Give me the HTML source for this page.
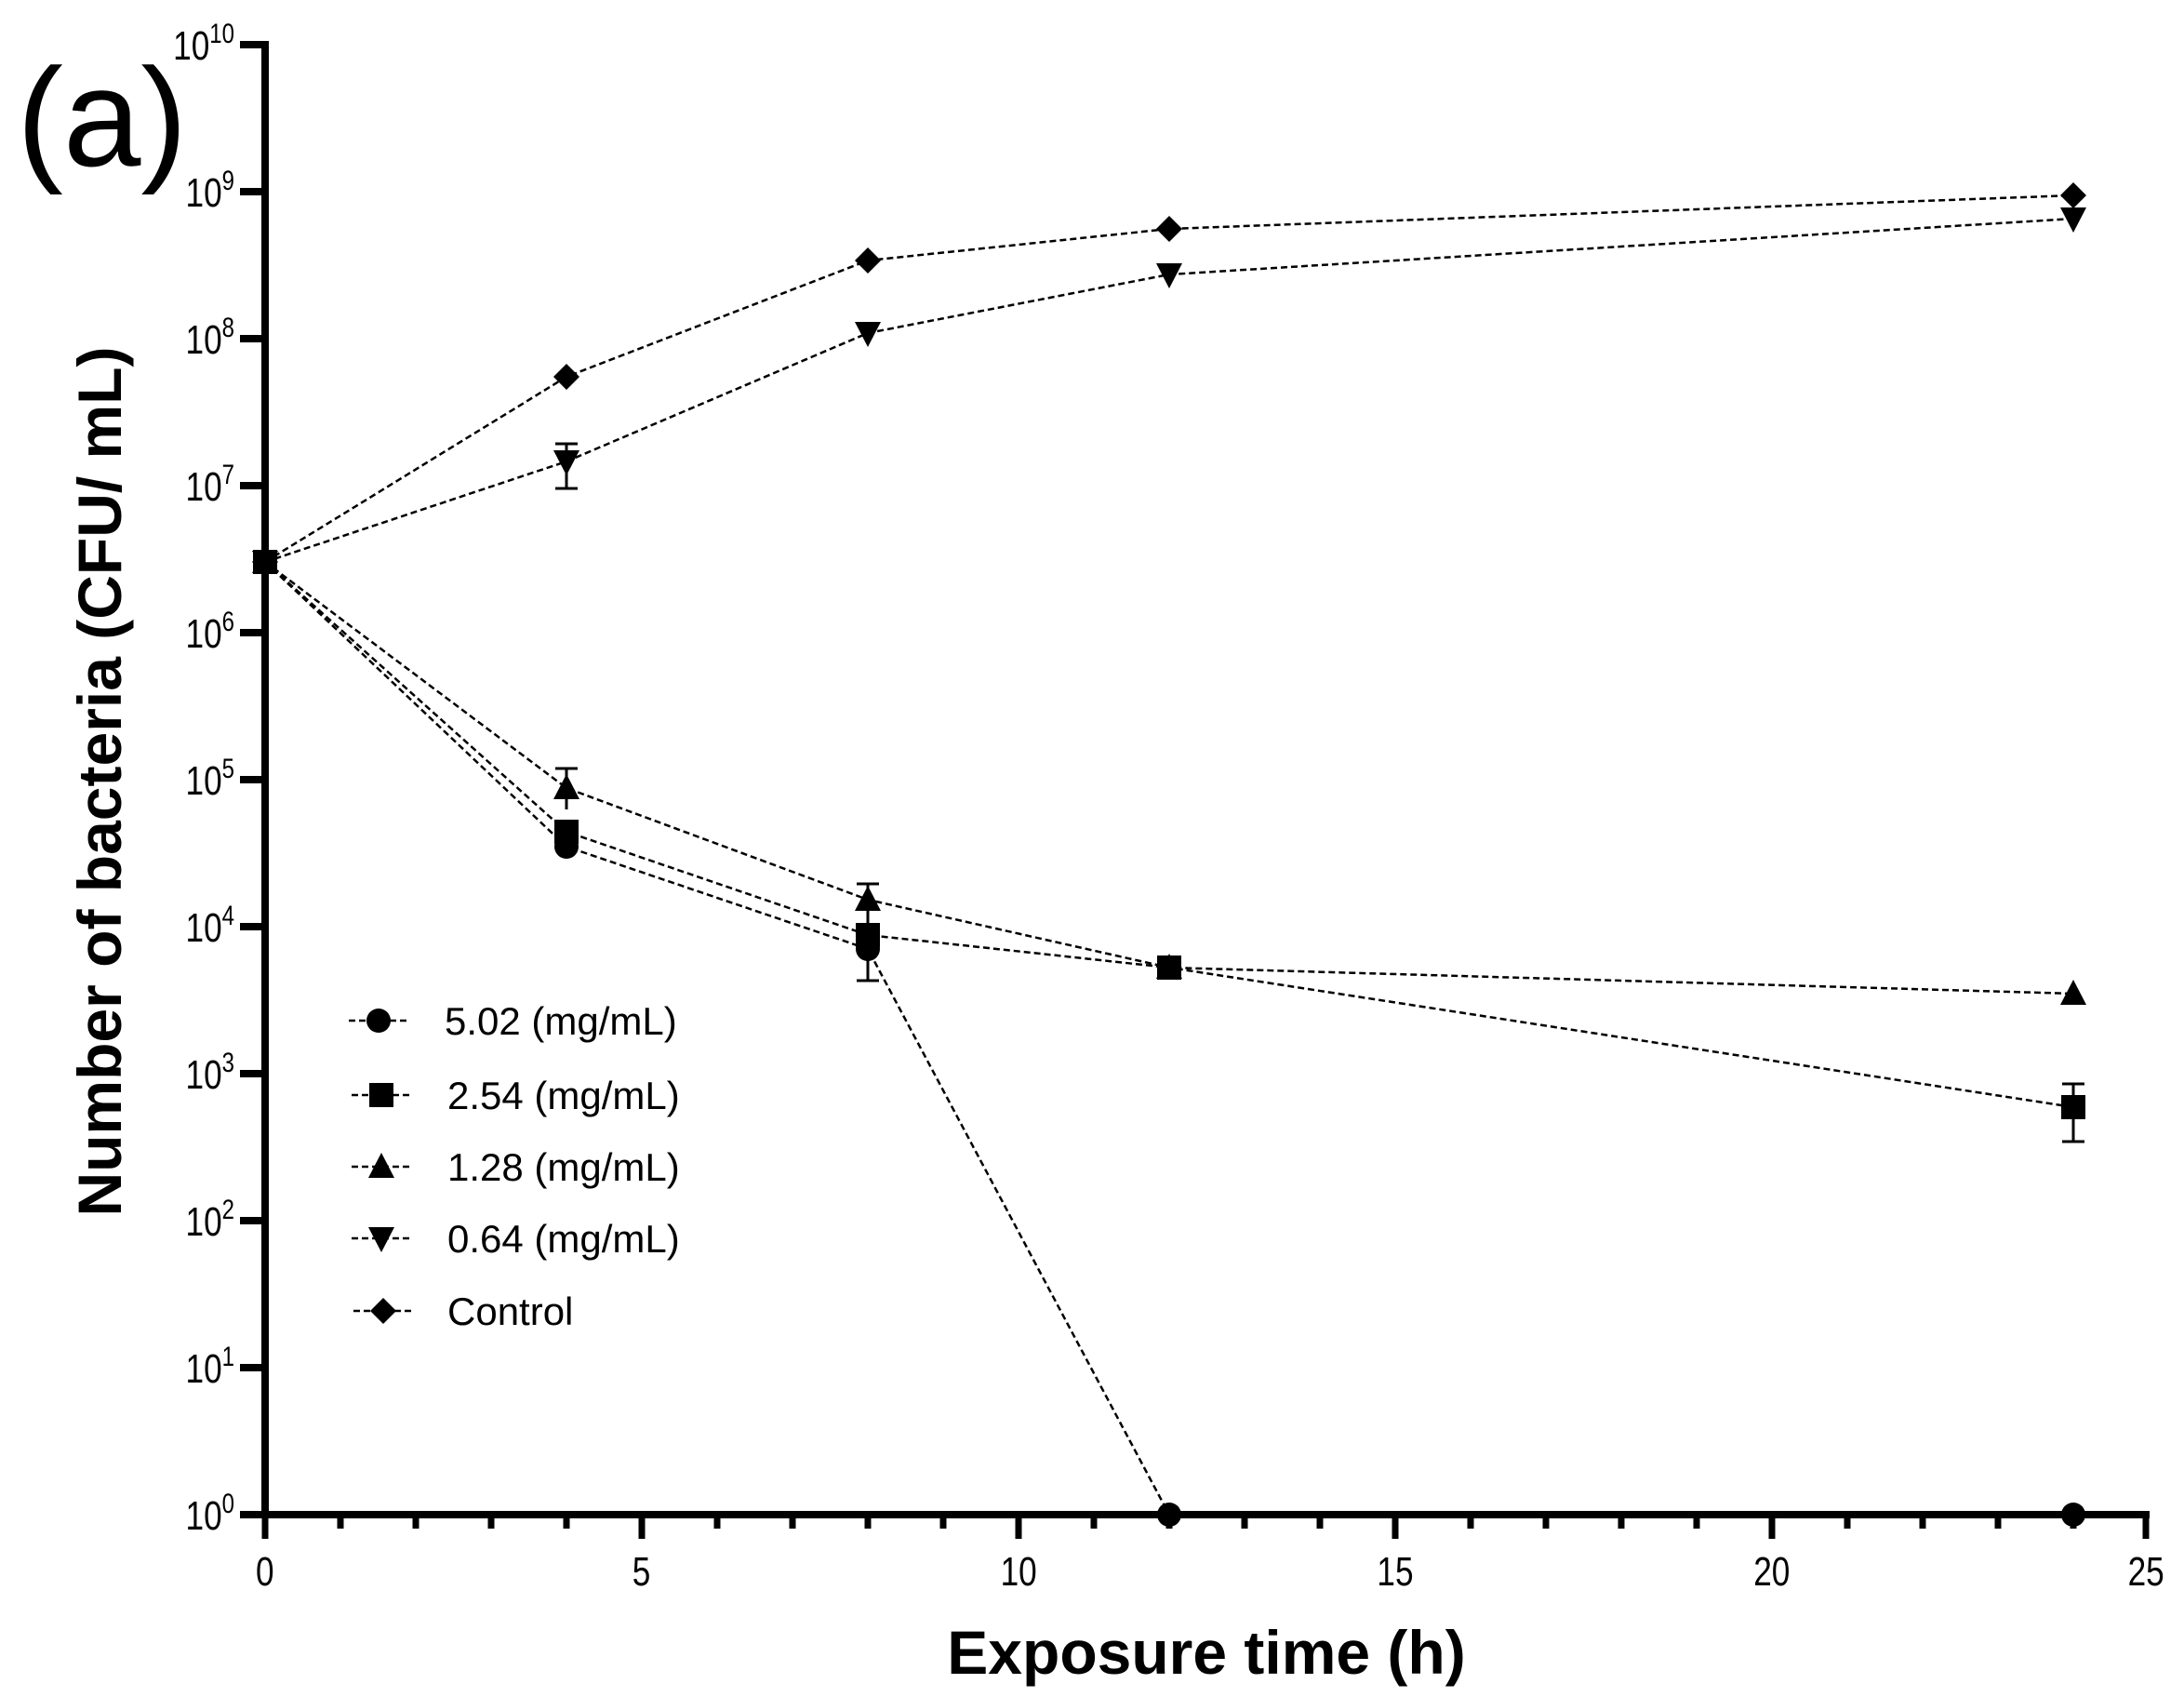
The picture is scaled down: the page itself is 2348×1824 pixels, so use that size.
<!DOCTYPE html>
<html><head><meta charset="utf-8"><style>
html,body{margin:0;padding:0;background:#fff}
svg{display:block}
text{font-family:"Liberation Sans",Arial,sans-serif;fill:#000}
</style></head><body>
<svg width="2348" height="1824" viewBox="0 0 2348 1824" xmlns="http://www.w3.org/2000/svg">
<!-- panel label -->
<text x="18" y="178" font-size="150">(a)</text>
<!-- axes -->
<g stroke="#000" stroke-width="8" fill="none">
<line x1="285" y1="44" x2="285" y2="1632"/>
<line x1="258" y1="1628" x2="2311" y2="1628"/>
</g>
<!-- y ticks -->
<g stroke="#000" stroke-width="8">
<line x1="258" y1="48" x2="285" y2="48"/>
<line x1="258" y1="206" x2="285" y2="206"/>
<line x1="258" y1="364" x2="285" y2="364"/>
<line x1="258" y1="522" x2="285" y2="522"/>
<line x1="258" y1="680" x2="285" y2="680"/>
<line x1="258" y1="838" x2="285" y2="838"/>
<line x1="258" y1="996" x2="285" y2="996"/>
<line x1="258" y1="1154" x2="285" y2="1154"/>
<line x1="258" y1="1312" x2="285" y2="1312"/>
<line x1="258" y1="1470" x2="285" y2="1470"/>
</g>
<g stroke="#000" stroke-width="7">
<line x1="285" y1="1628" x2="285" y2="1654"/>
<line x1="366" y1="1628" x2="366" y2="1643"/>
<line x1="447" y1="1628" x2="447" y2="1643"/>
<line x1="528" y1="1628" x2="528" y2="1643"/>
<line x1="609" y1="1628" x2="609" y2="1643"/>
<line x1="690" y1="1628" x2="690" y2="1654"/>
<line x1="771" y1="1628" x2="771" y2="1643"/>
<line x1="852" y1="1628" x2="852" y2="1643"/>
<line x1="933" y1="1628" x2="933" y2="1643"/>
<line x1="1014" y1="1628" x2="1014" y2="1643"/>
<line x1="1095" y1="1628" x2="1095" y2="1654"/>
<line x1="1176" y1="1628" x2="1176" y2="1643"/>
<line x1="1257" y1="1628" x2="1257" y2="1643"/>
<line x1="1338" y1="1628" x2="1338" y2="1643"/>
<line x1="1419" y1="1628" x2="1419" y2="1643"/>
<line x1="1500" y1="1628" x2="1500" y2="1654"/>
<line x1="1581" y1="1628" x2="1581" y2="1643"/>
<line x1="1662" y1="1628" x2="1662" y2="1643"/>
<line x1="1743" y1="1628" x2="1743" y2="1643"/>
<line x1="1824" y1="1628" x2="1824" y2="1643"/>
<line x1="1905" y1="1628" x2="1905" y2="1654"/>
<line x1="1986" y1="1628" x2="1986" y2="1643"/>
<line x1="2067" y1="1628" x2="2067" y2="1643"/>
<line x1="2148" y1="1628" x2="2148" y2="1643"/>
<line x1="2229" y1="1628" x2="2229" y2="1643"/>
<line x1="2307" y1="1624" x2="2307" y2="1654"/>
</g>
<!-- x tick labels -->
<g font-size="44" text-anchor="middle" transform="scale(0.8,1)">
<text x="356" y="1704">0</text>
<text x="862" y="1704">5</text>
<text x="1369" y="1704">10</text>
<text x="1875" y="1704">15</text>
<text x="2381" y="1704">20</text>
<text x="2884" y="1704">25</text>
</g>
<!-- y tick labels -->
<g font-size="44" text-anchor="end" transform="scale(0.8,1)">
<text x="315" y="64">10<tspan font-size="30" dy="-18">10</tspan></text>
<text x="315" y="222">10<tspan font-size="30" dy="-18">9</tspan></text>
<text x="315" y="380">10<tspan font-size="30" dy="-18">8</tspan></text>
<text x="315" y="538">10<tspan font-size="30" dy="-18">7</tspan></text>
<text x="315" y="696">10<tspan font-size="30" dy="-18">6</tspan></text>
<text x="315" y="854">10<tspan font-size="30" dy="-18">5</tspan></text>
<text x="315" y="1012">10<tspan font-size="30" dy="-18">4</tspan></text>
<text x="315" y="1170">10<tspan font-size="30" dy="-18">3</tspan></text>
<text x="315" y="1328">10<tspan font-size="30" dy="-18">2</tspan></text>
<text x="315" y="1486">10<tspan font-size="30" dy="-18">1</tspan></text>
<text x="315" y="1644">10<tspan font-size="30" dy="-18">0</tspan></text>
</g>
<!-- axis titles -->
<text x="1297" y="1799" font-size="66" font-weight="bold" text-anchor="middle">Exposure time (h)</text>
<text transform="translate(130,840) rotate(-90)" font-size="66" font-weight="bold" text-anchor="middle">Number of bacteria (CFU/ mL)</text>

<!-- series lines -->
<g fill="none" stroke="#000" stroke-width="2.5" stroke-dasharray="7,4">
<polyline points="285,604 609,405 933,280 1257,246 2229,210"/>
<polyline points="285,604 609,496 933,358 1257,295 2229,235"/>
<polyline points="285,604 609,847 933,967 1257,1040 2229,1068"/>
<polyline points="285,604 609,894 933,1005 1257,1040 2229,1190"/>
<polyline points="285,604 609,910 933,1020 1257,1628 2229,1628"/>
</g>
<!-- error bars -->
<g stroke="#000" stroke-width="3">
<line x1="609" y1="477" x2="609" y2="525"/><line x1="597" y1="477" x2="621" y2="477"/><line x1="597" y1="525" x2="621" y2="525"/>
<line x1="609" y1="826" x2="609" y2="870"/><line x1="597" y1="826" x2="621" y2="826"/>
<line x1="933" y1="950" x2="933" y2="987"/><line x1="921" y1="950" x2="945" y2="950"/>
<line x1="933" y1="982" x2="933" y2="1054"/><line x1="921" y1="1054" x2="945" y2="1054"/>
<line x1="2229" y1="1165" x2="2229" y2="1227"/><line x1="2217" y1="1165" x2="2241" y2="1165"/><line x1="2217" y1="1227" x2="2241" y2="1227"/>
</g>
<defs>
<circle id="mc" r="13"/>
<rect id="ms" x="-13" y="-13" width="26" height="26"/>
<polygon id="mt" points="0,-15 14,12 -14,12"/>
<polygon id="mv" points="0,15 14,-12 -14,-12"/>
<polygon id="md" points="0,-14 14,0 0,14 -14,0"/>
</defs>
<g fill="#000">
<use href="#md" x="609" y="405"/><use href="#md" x="933" y="280"/><use href="#md" x="1257" y="246"/><use href="#md" x="2229" y="210"/>
<use href="#mv" x="609" y="496"/><use href="#mv" x="933" y="358"/><use href="#mv" x="1257" y="295"/><use href="#mv" x="2229" y="235"/>
<use href="#mc" x="609" y="910"/><use href="#mc" x="933" y="1020"/><use href="#mc" x="1257" y="1628"/><use href="#mc" x="2229" y="1628"/>
<use href="#mt" x="609" y="847"/><use href="#mt" x="933" y="967"/><use href="#mt" x="1257" y="1040"/><use href="#mt" x="2229" y="1068"/>
<use href="#ms" x="609" y="894"/><use href="#ms" x="933" y="1005"/><use href="#ms" x="1257" y="1040"/><use href="#ms" x="2229" y="1190"/>
<use href="#md" x="285" y="604"/><use href="#mv" x="285" y="604"/><use href="#mt" x="285" y="604"/><use href="#mc" x="285" y="604"/><use href="#ms" x="285" y="604"/>
</g>

<!-- legend -->
<g fill="none" stroke="#000" stroke-width="2.5" stroke-dasharray="7,4">
<line x1="375" y1="1097" x2="440" y2="1097"/>
<line x1="378" y1="1177" x2="440" y2="1177"/>
<line x1="378" y1="1254" x2="440" y2="1254"/>
<line x1="378" y1="1331" x2="440" y2="1331"/>
<line x1="380" y1="1409" x2="442" y2="1409"/>
</g>
<g fill="#000">
<use href="#mc" x="407" y="1097"/>
<use href="#ms" x="410" y="1177"/>
<use href="#mt" x="410" y="1254"/>
<use href="#mv" x="410" y="1331"/>
<use href="#md" x="412" y="1409"/>
</g>
<g font-size="42">
<text x="478" y="1112">5.02 (mg/mL)</text>
<text x="481" y="1192">2.54 (mg/mL)</text>
<text x="481" y="1269">1.28 (mg/mL)</text>
<text x="481" y="1346">0.64 (mg/mL)</text>
<text x="481" y="1424">Control</text>
</g>
</svg>
</body></html>
